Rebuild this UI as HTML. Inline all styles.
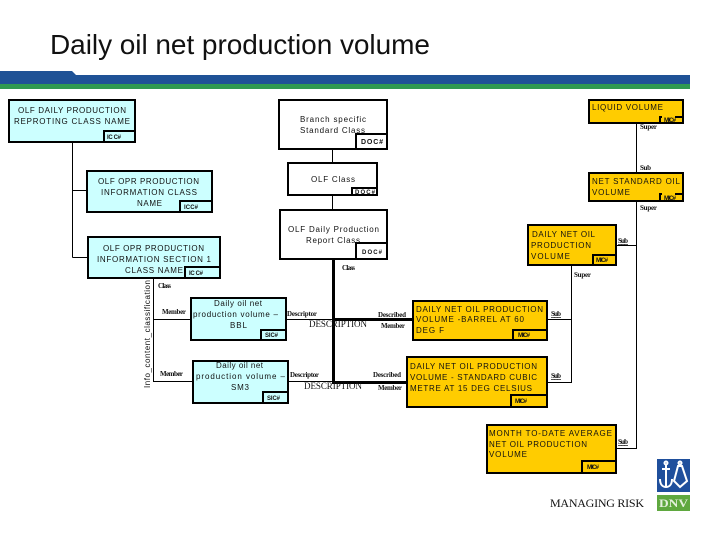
<!DOCTYPE html>
<html>
<head>
<meta charset="utf-8">
<style>
html,body{margin:0;padding:0;background:#fff;width:720px;height:540px;overflow:hidden}
svg{display:block}
text{fill:#111}
.t{font-family:"Liberation Sans",sans-serif;font-size:8px}
.g{font-family:"Liberation Sans",sans-serif;font-size:6px;font-weight:bold}
.s{font-family:"Liberation Serif",serif;font-size:7px;font-weight:bold}
.d{font-family:"Liberation Serif",serif;font-size:9px}
.b{stroke:#000;stroke-width:2}
.c{fill:#ccffff}.w{fill:#fff}.y{fill:#ffcc00}
.l{stroke:#000;stroke-width:1;fill:none}
.h{stroke:#000;stroke-width:3;fill:none}
</style>
</head>
<body>
<svg width="720" height="540" viewBox="0 0 720 540" xmlns="http://www.w3.org/2000/svg">
<rect width="720" height="540" fill="#fff"/>
<text x="50" y="54" font-family="Liberation Sans, sans-serif" font-size="28" textLength="380" lengthAdjust="spacing" style="fill:#111">Daily oil net production volume</text>

<path d="M0 71H72L76 75H690V84H0Z" fill="#1f5296"/>
<rect x="0" y="84" width="690" height="5" fill="#2f9a50"/>

<!-- connectors -->
<path class="l" d="M72.500 142V257.500M72.500 190.500H86M72.500 257.500H87"/>
<path class="l" d="M332.500 149V162M332.500 195V210"/>
<path class="h" d="M333.500 259V384M333.500 319.500H413M333.500 382.500H407"/>
<path class="l" d="M286 319.500H333M288 381.500H333"/>
<path class="l" d="M153.500 278V382M153.500 319.500H191M153.500 381.500H193"/>
<path class="l" d="M636.500 123V173M636.500 201V448.500H616M636.500 245.500H616"/>
<path class="l" d="M571.500 265V382.500H547M571.500 319.500H547"/>

<!-- boxes left -->
<rect class="b c" x="9" y="100" width="126" height="42"/>
<rect class="b c" x="104" y="131" width="31" height="11"/>
<rect class="b c" x="87" y="171" width="125" height="41"/>
<rect class="b c" x="180" y="201" width="32" height="11"/>
<rect class="b c" x="88" y="237" width="132" height="41"/>
<rect class="b c" x="185" y="267" width="35" height="11"/>

<!-- boxes centre -->
<rect class="b w" x="279" y="100" width="108" height="49"/>
<rect class="b w" x="356" y="134" width="31" height="15"/>
<rect class="b w" x="288" y="163" width="89" height="32"/>
<rect class="b w" x="352" y="188" width="25" height="7"/>
<rect class="b w" x="280" y="210" width="107" height="49"/>
<rect class="b w" x="356" y="243" width="31" height="16"/>

<rect class="b c" x="191" y="298" width="95" height="42"/>
<rect class="b c" x="261" y="330" width="25" height="10"/>
<rect class="b c" x="193" y="361" width="95" height="42"/>
<rect class="b c" x="263" y="392" width="25" height="11"/>

<!-- boxes right -->
<rect class="b y" x="589" y="100" width="94" height="23"/>
<path d="M660 123V117H662M675 117H683" stroke="#000" stroke-width="2" fill="none"/>
<rect class="b y" x="589" y="173" width="94" height="28"/>
<path d="M660 201V194H662M675 194H683" stroke="#000" stroke-width="2" fill="none"/>
<rect class="b y" x="528" y="225" width="88" height="40"/>
<rect class="b y" x="593" y="255" width="23" height="10"/>
<rect class="b y" x="413" y="301" width="134" height="39"/>
<rect class="b y" x="513" y="330" width="34" height="10"/>
<rect class="b y" x="407" y="357" width="140" height="50"/>
<rect class="b y" x="511" y="395" width="36" height="12"/>
<rect class="b y" x="487" y="425" width="129" height="48"/>
<rect class="b y" x="582" y="461" width="34" height="12"/>

<!-- main text -->
<g class="t">
<text x="18" y="113" textLength="108">OLF DAILY PRODUCTION</text>
<text x="14" y="124" textLength="116">REPROTING CLASS NAME</text>
<text x="98" y="184" textLength="101">OLF OPR PRODUCTION</text>
<text x="101" y="195" textLength="96">INFORMATION CLASS</text>
<text x="137" y="206" textLength="25">NAME</text>
<text x="103" y="251" textLength="101">OLF OPR PRODUCTION</text>
<text x="97" y="262" textLength="114">INFORMATION SECTION 1</text>
<text x="125" y="273" textLength="58">CLASS NAME</text>
<text x="300" y="122" textLength="66">Branch specific</text>
<text x="300" y="133" textLength="65">Standard Class</text>
<text x="311" y="182" textLength="44">OLF Class</text>
<text x="288" y="232" textLength="91">OLF Daily Production</text>
<text x="306" y="243" textLength="54">Report Class</text>
<text x="214" y="306" textLength="48">Daily oil net</text>
<text x="193" y="317" textLength="85">production volume –</text>
<text x="230" y="328" textLength="17">BBL</text>
<text x="216" y="368" textLength="47">Daily oil net</text>
<text x="196" y="379" textLength="89">production volume –</text>
<text x="231" y="390" textLength="18">SM3</text>
<text x="592" y="110" textLength="71">LIQUID VOLUME</text>
<text x="592" y="184" textLength="88">NET STANDARD OIL</text>
<text x="592" y="195" textLength="38">VOLUME</text>
<text x="532" y="237" textLength="63">DAILY NET OIL</text>
<text x="531" y="248" textLength="60">PRODUCTION</text>
<text x="531" y="259" textLength="39">VOLUME</text>
<text x="416" y="312" textLength="127">DAILY NET OIL PRODUCTION</text>
<text x="416" y="322" textLength="108">VOLUME -BARREL AT 60</text>
<text x="416" y="333" textLength="28">DEG F</text>
<text x="410" y="369" textLength="127">DAILY NET OIL PRODUCTION</text>
<text x="410" y="380" textLength="127">VOLUME - STANDARD CUBIC</text>
<text x="410" y="391" textLength="122">METRE AT 15 DEG CELSIUS</text>
<text x="489" y="436" textLength="123">MONTH TO-DATE AVERAGE</text>
<text x="489" y="447" textLength="98">NET OIL PRODUCTION</text>
<text x="489" y="457" textLength="38">VOLUME</text>
</g>

<!-- tags -->
<g class="g">
<text x="107" y="139" textLength="14">IC C#</text>
<text x="184" y="209" textLength="14">ICC#</text>
<text x="189" y="275" textLength="14">IC C#</text>
<text x="361" y="144" textLength="22" style="font-size:7px">DOC#</text>
<text x="355" y="194" textLength="20">DOC#</text>
<text x="362" y="254" textLength="20">DOC#</text>
<text x="265" y="337" textLength="13">SIC#</text>
<text x="267" y="400" textLength="13">SIC#</text>
<text x="664" y="122" textLength="12">MIC#</text>
<text x="664" y="200" textLength="12">MIC#</text>
<text x="596" y="262" textLength="12">MIC#</text>
<text x="518" y="337" textLength="12">MIC#</text>
<text x="515" y="403" textLength="12">MIC#</text>
<text x="587" y="469" textLength="12">MIC#</text>
</g>

<!-- small labels -->
<g class="s">
<text x="158" y="288" textLength="13">Class</text>
<text x="342" y="270" textLength="13">Class</text>
<text x="162" y="314" textLength="24">Member</text>
<text x="160" y="376" textLength="23">Member</text>
<text x="287" y="316" textLength="30">Descriptor</text>
<text x="290" y="377" textLength="29">Descriptor</text>
<text x="378" y="317" textLength="28">Described</text>
<text x="373" y="377" textLength="28">Described</text>
<text x="381" y="328" textLength="24">Member</text>
<text x="378" y="390" textLength="24">Member</text>
<text x="640" y="129" textLength="17">Super</text>
<text x="640" y="170" textLength="11">Sub</text>
<text x="640" y="210" textLength="17">Super</text>
<text x="618" y="243" textLength="10" text-decoration="underline">Sub</text>
<text x="574" y="277" textLength="17">Super</text>
<text x="551" y="316" textLength="10" text-decoration="underline">Sub</text>
<text x="551" y="378" textLength="10" text-decoration="underline">Sub</text>
<text x="618" y="444" textLength="10" text-decoration="underline">Sub</text>
</g>
<g class="d">
<text x="309" y="327" textLength="58">DESCRIPTION</text>
<text x="304" y="389" textLength="58">DESCRIPTION</text>
</g>
<text class="t" transform="translate(150 388) rotate(-90)" textLength="108">Info_content_classification</text>

<!-- logo -->
<rect x="657" y="459" width="33" height="33" fill="#1f4f9c"/>
<g fill="none" stroke="#fff" stroke-width="2">
<circle cx="666" cy="463" r="1.500"/>
<path d="M666 465V487M662 469H670M660 479C660 485 663 487 666 487C669 487 672 485 672 479"/>
<circle cx="680" cy="463" r="1.500"/>
<path d="M678 466H682L687 481L680 487L674 481Z"/>
</g>
<rect x="657" y="495" width="33" height="16" fill="#5fa83f"/>
<text x="659" y="507" font-family="Liberation Serif, serif" font-size="12" font-weight="bold" textLength="29" lengthAdjust="spacingAndGlyphs" style="fill:#e4f0dc">DNV</text>
<text x="550" y="507" font-family="Liberation Serif, serif" font-size="12" textLength="94" style="fill:#111">MANAGING RISK</text>
</svg>
</body>
</html>
